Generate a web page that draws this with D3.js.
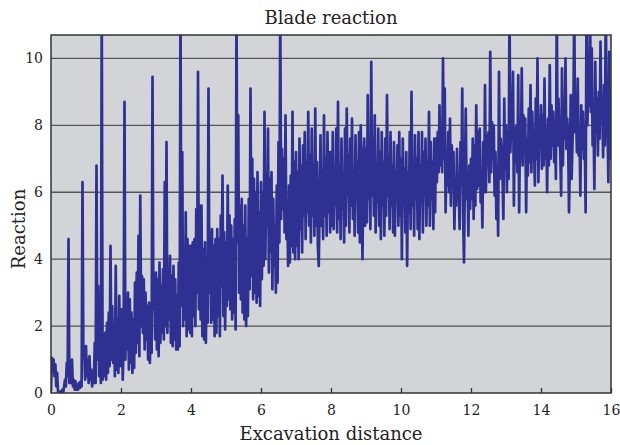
<!DOCTYPE html>
<html>
<head>
<meta charset="utf-8">
<script src="https://cdn.jsdelivr.net/npm/d3@7/dist/d3.min.js"></script>
<style>
  html, body { margin: 0; padding: 0; background: #ffffff; }
  svg { display: block; }
  text { font-family: "DejaVu Serif", "Liberation Serif", serif; fill: #222; }
</style>
</head>
<body>
<svg id="chart" width="620" height="445"></svg>
<script>
// ---- data ----
const title = "Blade reaction";
const xLabel = "Excavation distance";
const yLabel = "Reaction";
const xTicks = [0, 2, 4, 6, 8, 10, 12, 14, 16];
const yTicks = [0, 2, 4, 6, 8, 10];
const distanceStep = 0.025;   // sampling interval of the readings
const reaction = [
  // 0.000 - 0.975
  0.1, 1.05, 0.7, 1.0, 0.5, 0.85, 0.2, 0.6, 0.05, 0.0, 0.0, 0.05, 0.0, 0.1, 0.0, 0.2, 0.4, 0.2, 0.9, 0.5,
  4.6, 0.3, 0.8, 0.3, 1.0, 0.2, 0.4, 0.1, 0.35, 0.1, 0.25, 0.1, 0.3, 0.15, 0.35, 0.2, 6.3, 1.1, 1.3, 0.4,
  // 1.000 - 1.975
  1.4, 0.5, 1.0, 0.3, 1.1, 0.4, 0.7, 0.2, 0.6, 0.3, 1.5, 0.3, 6.8, 1.0, 3.2, 0.5, 1.2, 0.3, 11.5, 0.4,
  1.2, 0.5, 1.8, 0.4, 2.1, 0.6, 2.4, 0.8, 4.4, 1.0, 2.6, 0.9, 1.9, 0.5, 3.8, 0.7, 2.2, 0.6, 2.9, 0.8,
  // 2.000 - 2.975
  1.2, 2.5, 0.4, 1.6, 8.7, 1.0, 2.6, 1.3, 3.0, 0.7, 2.8, 0.9, 2.4, 0.6, 2.2, 0.75, 3.3, 1.2, 3.6, 1.5,
  4.7, 1.1, 5.9, 2.0, 3.5, 1.8, 3.4, 1.3, 3.0, 1.6, 2.6, 1.0, 2.7, 0.9, 2.4, 1.2, 9.45, 2.5, 3.2, 1.6,
  // 3.000 - 3.975
  3.6, 1.3, 3.4, 1.1, 3.9, 1.5, 3.2, 1.8, 3.7, 1.6, 6.3, 2.0, 7.5, 1.8, 3.6, 2.2, 4.1, 1.5, 3.5, 1.4,
  3.8, 1.6, 3.4, 1.3, 2.9, 1.3, 3.9, 1.4, 11.5, 2.6, 7.2, 2.0, 3.8, 2.2, 5.4, 1.7, 4.6, 1.9, 4.4, 1.8,
  // 4.000 - 4.975
  4.4, 1.7, 4.5, 2.3, 4.6, 2.0, 5.5, 3.0, 9.6, 2.5, 5.6, 2.2, 5.6, 1.7, 4.3, 1.6, 4.5, 1.5, 3.8, 2.1,
  9.1, 3.0, 4.8, 2.1, 4.9, 2.2, 4.4, 1.7, 4.6, 1.8, 4.9, 2.3, 4.6, 1.7, 5.3, 3.2, 6.5, 2.3, 4.8, 1.9,
  // 5.000 - 5.975
  4.5, 2.6, 6.2, 2.8, 5.3, 2.5, 5.0, 2.2, 4.6, 2.4, 5.2, 1.9, 11.5, 4.5, 8.3, 3.0, 5.6, 2.8, 5.8, 2.4,
  5.0, 2.2, 5.6, 2.0, 4.6, 2.3, 5.8, 3.1, 9.1, 3.5, 7.0, 2.8, 6.4, 3.0, 6.0, 2.7, 6.6, 2.9, 5.4, 2.6,
  // 6.000 - 6.975
  6.3, 3.4, 6.0, 3.8, 8.4, 4.0, 6.5, 5.0, 7.9, 3.6, 6.4, 4.2, 6.6, 3.1, 5.8, 3.8, 5.0, 3.0, 6.2, 3.3,
  7.5, 4.5, 11.5, 5.2, 7.3, 5.5, 7.0, 4.8, 8.3, 4.6, 5.6, 3.8, 6.2, 3.9, 6.5, 4.4, 8.4, 4.2, 6.9, 4.0,
  // 7.000 - 7.975
  7.2, 4.4, 6.6, 4.0, 7.6, 4.9, 6.8, 4.2, 7.4, 5.3, 7.8, 4.6, 6.9, 5.4, 8.4, 5.0, 7.1, 4.5, 7.9, 5.3,
  6.8, 4.7, 8.5, 5.0, 6.9, 4.4, 3.8, 5.6, 7.7, 5.0, 6.6, 4.6, 8.3, 5.3, 7.0, 4.7, 7.8, 5.4, 7.2, 4.8,
  // 8.000 - 8.975
  7.2, 5.0, 7.8, 4.9, 6.6, 5.6, 7.9, 4.8, 8.7, 5.2, 6.8, 4.6, 7.6, 5.5, 6.5, 4.5, 7.9, 5.0, 8.5, 5.9,
  7.1, 4.8, 7.6, 5.6, 8.2, 5.2, 6.6, 4.7, 7.7, 5.8, 6.9, 4.8, 7.8, 4.5, 8.0, 5.9, 4.0, 6.9, 7.6, 5.0,
  // 9.000 - 9.975
  7.3, 5.1, 8.9, 5.8, 7.0, 4.9, 9.9, 5.9, 7.6, 5.3, 8.3, 4.8, 6.8, 5.7, 7.9, 5.0, 7.2, 4.6, 7.8, 5.6,
  6.9, 4.7, 7.6, 5.3, 8.9, 5.9, 7.0, 4.9, 7.8, 5.6, 6.8, 4.8, 7.5, 4.7, 6.6, 5.8, 7.4, 5.0, 7.8, 5.3,
  // 10.000 - 10.975
  7.0, 4.0, 7.6, 5.6, 6.7, 4.8, 7.2, 3.8, 6.6, 5.4, 7.8, 4.9, 9.0, 5.6, 6.8, 4.7, 7.7, 5.8, 7.0, 4.9,
  7.8, 4.6, 6.8, 5.7, 7.8, 4.8, 7.2, 5.9, 7.6, 5.0, 6.9, 5.6, 8.4, 5.0, 7.5, 5.8, 6.9, 4.9, 7.6, 5.4,
  // 11.000 - 11.975
  7.6, 6.3, 7.8, 6.6, 8.6, 6.8, 7.9, 6.6, 10.0, 7.0, 9.1, 5.4, 7.2, 6.2, 7.8, 6.0, 8.2, 5.6, 7.4, 6.5,
  7.2, 4.9, 6.3, 5.6, 7.3, 5.8, 6.0, 4.9, 7.5, 6.2, 9.1, 5.3, 3.9, 6.4, 8.5, 5.8, 6.6, 4.7, 6.8, 5.5,
  // 12.000 - 12.975
  7.0, 5.8, 7.6, 5.2, 7.4, 5.6, 8.6, 6.1, 7.8, 6.2, 7.9, 5.7, 6.6, 4.95, 7.5, 6.0, 9.2, 6.0, 7.7, 6.8,
  7.8, 6.3, 10.2, 6.6, 8.1, 7.0, 8.0, 5.9, 7.2, 5.2, 6.8, 4.7, 9.6, 6.4, 7.6, 7.1, 6.5, 5.2, 8.8, 6.7,
  // 13.000 - 13.975
  8.0, 6.0, 7.8, 6.4, 11.5, 7.2, 8.4, 7.6, 9.6, 5.6, 7.9, 6.9, 8.0, 6.6, 9.5, 5.4, 7.7, 7.0, 9.7, 6.8,
  8.3, 7.2, 8.2, 5.4, 7.6, 6.5, 8.5, 6.9, 9.2, 6.6, 8.4, 7.3, 7.4, 6.2, 8.8, 7.0, 10.0, 6.3, 8.1, 7.6,
  // 14.000 - 14.975
  8.6, 6.7, 8.3, 6.8, 9.4, 7.0, 7.9, 6.0, 8.2, 6.8, 9.8, 7.0, 8.6, 7.4, 8.4, 6.9, 8.0, 6.4, 11.5, 7.4,
  8.8, 7.7, 7.2, 5.9, 9.7, 6.8, 8.5, 7.6, 10.0, 7.3, 8.2, 7.6, 5.4, 7.0, 8.9, 6.4, 7.5, 8.4, 11.5, 7.8,
  // 15.000 - 16.000
  8.6, 7.2, 9.4, 7.1, 7.8, 5.9, 8.6, 7.3, 8.4, 7.0, 7.6, 5.4, 11.5, 8.0, 9.2, 8.6, 11.5, 8.4, 10.3, 7.4,
  8.3, 6.1, 9.9, 7.8, 8.8, 7.1, 9.0, 7.6, 10.5, 8.2, 8.7, 7.05, 9.2, 7.4, 11.5, 8.6, 8.0, 6.3, 10.2, 7.0,
  8.2
];
const xDomain = [0, 16];
const yDomain = [0, 10.7];

// ---- chart ----
const svg = d3.select("#chart");
const margin = { left: 51, right: 9, top: 35, bottom: 52 };
const W = 620, H = 445;
const x = d3.scaleLinear().domain(xDomain).range([margin.left, W - margin.right]);
const y = d3.scaleLinear().domain(yDomain).range([H - margin.bottom, margin.top]);

const points = reaction.map((v, i) => ({ d: i * distanceStep, v }));

// plot background
svg.append("rect")
  .attr("x", x(xDomain[0])).attr("y", y(yDomain[1]))
  .attr("width", x(xDomain[1]) - x(xDomain[0]))
  .attr("height", y(yDomain[0]) - y(yDomain[1]))
  .attr("fill", "#d3d4d7");

// gridlines
svg.append("g").selectAll("line")
  .data(yTicks.filter(t => t > 0))
  .join("line")
  .attr("x1", x(xDomain[0])).attr("x2", x(xDomain[1]))
  .attr("y1", d => y(d)).attr("y2", d => y(d))
  .attr("stroke", "#555").attr("stroke-width", 1.3);

// clip
svg.append("clipPath").attr("id", "plotclip")
  .append("rect")
  .attr("x", x(xDomain[0])).attr("y", y(yDomain[1]))
  .attr("width", x(xDomain[1]) - x(xDomain[0]))
  .attr("height", y(yDomain[0]) - y(yDomain[1]));

const line = d3.line().x(d => x(d.d)).y(d => y(d.v));
svg.append("path")
  .datum(points)
  .attr("clip-path", "url(#plotclip)")
  .attr("d", line)
  .attr("fill", "none")
  .attr("stroke", "#2e3192")
  .attr("stroke-width", 2.7)
  .attr("stroke-linejoin", "round");

// border
svg.append("rect")
  .attr("x", x(xDomain[0])).attr("y", y(yDomain[1]))
  .attr("width", x(xDomain[1]) - x(xDomain[0]))
  .attr("height", y(yDomain[0]) - y(yDomain[1]))
  .attr("fill", "none").attr("stroke", "#333").attr("stroke-width", 1.5);

// x axis
const xAxis = d3.axisBottom(x).tickValues(xTicks).tickSize(-5).tickPadding(12).tickFormat(d3.format("d"));
const gx = svg.append("g").attr("transform", `translate(0,${y(0)})`).call(xAxis);
gx.select(".domain").remove();
gx.selectAll(".tick line").attr("stroke", "#333").attr("stroke-width", 1.3);
gx.selectAll(".tick text").attr("font-size", 14).attr("font-family", "DejaVu Serif, serif").attr("fill", "#222");

// y axis
const yAxis = d3.axisLeft(y).tickValues(yTicks).tickSize(0).tickPadding(8).tickFormat(d3.format("d"));
const gy = svg.append("g").attr("transform", `translate(${x(0)},0)`).call(yAxis);
gy.select(".domain").remove();
gy.selectAll(".tick text").attr("font-size", 14).attr("font-family", "DejaVu Serif, serif").attr("fill", "#222");

// title and labels
svg.append("text").attr("x", (x(0) + x(16)) / 2).attr("y", 24)
  .attr("text-anchor", "middle").attr("font-size", 18).text(title);
svg.append("text").attr("x", (x(0) + x(16)) / 2).attr("y", 440)
  .attr("text-anchor", "middle").attr("font-size", 18).text(xLabel);
svg.append("text").attr("transform", `translate(25,229) rotate(-90)`)
  .attr("text-anchor", "middle").attr("font-size", 18).text(yLabel);
</script>
</body>
</html>
